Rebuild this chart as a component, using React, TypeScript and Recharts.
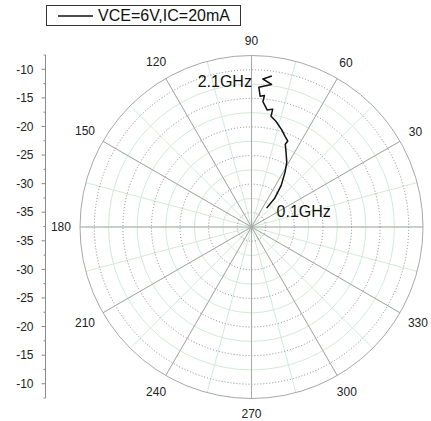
import React from 'react';
import {
  RadarChart,
  Radar,
  PolarGrid,
  PolarAngleAxis,
  PolarRadiusAxis,
  LineChart,
  Line,
  YAxis,
  XAxis,
} from 'recharts';

// ---- data ----
// angle in degrees (0 = right, counter-clockwise), gain in dB, 0.1 GHz .. 2.1 GHz
const angles = [51.3, 51.0, 54.5, 58.5, 61.4, 65.1, 67.8, 67.1, 69.7, 72.7, 77.0, 80.0, 79.8, 82.4, 84.8, 84.4, 86.2, 87.0, 82.0, 85.6, 82.3];
const gains = [-33.2, -31.0, -28.4, -26.1, -24.4, -22.9, -21.6, -20.9, -20.3, -19.4, -18.2, -17.5, -16.2, -16.5, -15.1, -14.0, -14.2, -12.6, -11.9, -11.1, -10.4];
const endLabels = ['0.1GHz', '2.1GHz'];
const seriesName = 'VCE=6V,IC=20mA';

const radialDomain: [number, number] = [-37.5, -7.5];
const majorRadii = [-35, -30, -25, -20, -15, -10];
const minorRadii = [-32.5, -27.5, -22.5, -17.5, -12.5];
const outerRadii = [-7.5];
const majorAngles = [0, 30, 60, 90, 120, 150, 180, 210, 240, 270, 300, 330];
const minorAngles = [15, 45, 75, 105, 135, 165, 195, 225, 255, 285, 315, 345];

// left (mirrored) radial scale
const leftDomain: [number, number] = [-67.5, -7.5];
const leftMajorTicks = [-10, -15, -20, -25, -30, -35, -40, -45, -50, -55, -60, -65];
const leftMajorLabels = ['-10', '-15', '-20', '-25', '-30', '-35', '-35', '-30', '-25', '-20', '-15', '-10'];
const leftMinorTicks = [-7.5, -12.5, -17.5, -22.5, -27.5, -32.5, -37.5, -42.5, -47.5, -52.5, -57.5, -62.5, -67.5];

const data = angles.map((a, i) => ({ angle: a, value: gains[i] }));
const leftData = leftMinorTicks.map((v) => ({ v }));

const FONT = '"Liberation Sans", Arial, sans-serif';
const W = 431;
const H = 421;
const CX = 251.5;
const CY = 227;
const OUTER = 171.5;

// radius (px) of a dB value, for the grid rings
const ringR = (v: number) => ((v - radialDomain[0]) / (radialDomain[1] - radialDomain[0])) * OUTER;

const AngleTick = (props: any) => {
  const { x, y, payload } = props;
  const a = (payload.coordinate * Math.PI) / 180;
  const ux = Math.cos(a);
  const uy = -Math.sin(a);
  const label = String(payload.value);
  const w = label.length * 6.7;
  const h = 12;
  const d = 1 + (Math.abs(ux) * w) / 2 + (Math.abs(uy) * h) / 2;
  return (
    <text
      x={x + ux * d}
      y={y + uy * d}
      textAnchor="middle"
      dominantBaseline="central"
      fontSize={12}
      fontFamily={FONT}
      fill="#222"
    >
      {label}
    </text>
  );
};

const OpenCurve = (props: any) => {
  const pts = props.points || [];
  if (!pts.length) return <g />;
  const d = pts.map((p: any, i: number) => `${i === 0 ? 'M' : 'L'}${p.x},${p.y}`).join(' ');
  const first = pts[0];
  const last = pts[pts.length - 1];
  return (
    <g>
      <path d={d} fill="none" stroke="#111" strokeWidth={1.5} strokeLinejoin="round" />
      <text x={first.x + 10} y={first.y + 9} fontSize={16} fontFamily={FONT} fill="#111">
        {endLabels[0]}
      </text>
      <text x={last.x - 20} y={last.y + 11} textAnchor="end" fontSize={16} fontFamily={FONT} fill="#111">
        {endLabels[1]}
      </text>
    </g>
  );
};

export default function App() {
  return (
    <div style={{ position: 'absolute', left: 0, top: 0, width: W, height: H, background: '#fff', overflow: 'hidden' }}>
      <div style={{ position: 'absolute', left: 0, top: 0 }}>
        <RadarChart
          width={W}
          height={H}
          data={data}
          cx={CX}
          cy={CY}
          innerRadius={0}
          outerRadius={OUTER}
          startAngle={0}
          endAngle={360}
          margin={{ top: 0, right: 0, bottom: 0, left: 0 }}
        >
          <PolarGrid
            gridType="circle"
            polarAngles={[...majorAngles, ...minorAngles]}
            polarRadius={minorRadii.map(ringR)}
            stroke="#d3ead8"
            strokeWidth={1}
          />
          <PolarGrid
            gridType="circle"
            radialLines={false}
            polarAngles={majorAngles}
            polarRadius={majorRadii.map(ringR)}
            stroke="#8a8a8a"
            strokeDasharray="1 2"
            strokeWidth={1}
          />
          <PolarGrid
            gridType="circle"
            polarAngles={majorAngles}
            polarRadius={outerRadii.map(ringR)}
            stroke="#a8a8a8"
            strokeWidth={1}
          />
          <PolarAngleAxis
            dataKey="angle"
            type="number"
            domain={[0, 360]}
            ticks={majorAngles}
            tick={<AngleTick />}
            tickLine={false}
            axisLine={false}
          />
          <PolarRadiusAxis type="number" domain={radialDomain} tick={false} axisLine={false} />
          <Radar
            name={seriesName}
            dataKey="value"
            stroke="#111"
            fill="none"
            dot={false}
            shape={OpenCurve}
            isAnimationActive={false}
          />
        </RadarChart>
      </div>
      <div style={{ position: 'absolute', left: 0, top: 0 }}>
        <LineChart width={W} height={H} data={leftData} margin={{ top: 55, right: 0, bottom: 23, left: 0 }}>
          <XAxis hide />
          <YAxis
            type="number"
            domain={leftDomain}
            ticks={leftMajorTicks}
            width={45.5}
            interval={0}
            tickSize={4}
            tickMargin={8}
            tickFormatter={(v: any, i: number) => leftMajorLabels[i]}
            stroke="#8a8a8a"
            tick={{ fill: '#222', fontSize: 12, fontFamily: FONT }}
          />
          <Line dataKey="v" stroke="none" dot={false} activeDot={false} isAnimationActive={false} />
        </LineChart>
      </div>
      <div style={{ position: 'absolute', left: 0, top: 0 }}>
        <LineChart width={W} height={H} data={leftData} margin={{ top: 55, right: 0, bottom: 23, left: 0 }}>
          <XAxis hide />
          <YAxis
            type="number"
            domain={leftDomain}
            ticks={leftMinorTicks}
            width={45.5}
            interval={0}
            tickSize={2}
            tickFormatter={() => ''}
            stroke="#8a8a8a"
            axisLine={false}
          />
          <Line dataKey="v" stroke="none" dot={false} activeDot={false} isAnimationActive={false} />
        </LineChart>
      </div>
      <div
        style={{
          position: 'absolute',
          left: 46,
          top: 5,
          width: 195,
          height: 21,
          border: '1px solid #333',
          boxSizing: 'border-box',
          display: 'flex',
          alignItems: 'center',
          fontFamily: FONT,
          fontSize: 16,
          color: '#111',
          background: '#fff',
        }}
      >
        <svg width={48} height={18} style={{ display: 'block' }}>
          <line x1={11} y1={9} x2={46} y2={9} stroke="#111" strokeWidth={1.3} />
        </svg>
        <span style={{ marginLeft: 3, lineHeight: '18px' }}>{seriesName}</span>
      </div>
    </div>
  );
}
